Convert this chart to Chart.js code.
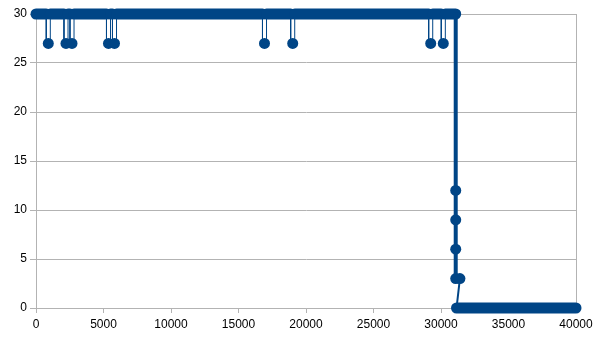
<!DOCTYPE html>
<html>
<head>
<meta charset="utf-8">
<script src="https://cdn.jsdelivr.net/npm/chart.js@4/dist/chart.umd.min.js"></script>
<style>
  body { margin: 0; background: #fff; }
  #wrap { width: 605px; height: 340px; }
</style>
</head>
<body>
<div id="wrap"><canvas id="chart" width="605" height="340"></canvas></div>
<script>
// x / y values (dense band at 30, short dips to 27, drop to 0)
var xValues = [0,
               760, 760, 911, 1060, 1060,
               2072, 2072, 2222, 2372, 2372,
               2517, 2517, 2667, 2817, 2817,
               5220, 5220, 5370, 5520, 5520,
               5665, 5665, 5815, 5965, 5965,
               16776, 16776, 16926, 17076, 17076,
               18865, 18865, 19015, 19165, 19165,
               29087, 29087, 29237, 29387, 29387,
               30020, 30020, 30170, 30320, 30320,
               31090, 31090, 31090, 31090, 31090, 31400, 31150, 40000];
var yValues = [30,
               30, 27, 27, 27, 30,
               30, 27, 27, 27, 30,
               30, 27, 27, 27, 30,
               30, 27, 27, 27, 30,
               30, 27, 27, 27, 30,
               30, 27, 27, 27, 30,
               30, 27, 27, 27, 30,
               30, 27, 27, 27, 30,
               30, 27, 27, 27, 30,
               30, 12, 9, 6, 3, 3, 0, 0];

var xTicks = [0, 5000, 10000, 15000, 20000, 25000, 30000, 35000, 40000];
var yTicks = [0, 5, 10, 15, 20, 25, 30];

var blue = '#004586';
var gridGray = '#b3b3b3';

var points = xValues.map(function(x, i) {
    return { x: x, y: yValues[i] };
});

// 線寬依段落決定
function segWidth(ctx) {
    var a = ctx.p0.parsed.y, b = ctx.p1.parsed.y;
    if (a === b && (a === 30 || a === 0)) return 11;   // 密集點形成的粗帶
    if (a === 27 || b === 27) return 1;                // 下探細線
    if (b === 0) return 2;
    return 4;
}

// 標記點大小：粗帶上不畫，下探只畫中間那個點
function markerRadius(c) {
    var i = c.dataIndex;
    var v = yValues[i];
    if (v === 30 || v === 0) return 0;
    if (v === 27) {
        return (yValues[i - 1] === 27 && yValues[i + 1] === 27) ? 5.5 : 0;
    }
    return 5.5;
}

var ctx = document.getElementById('chart').getContext('2d');
var chart = new Chart(ctx, {
    type: 'scatter',
    data: {
        datasets: [{
            data: points,
            showLine: true,
            borderColor: blue,
            backgroundColor: blue,
            borderWidth: 2,
            borderCapStyle: 'round',
            borderJoinStyle: 'round',
            pointRadius: markerRadius,
            pointBorderWidth: 0,
            pointHoverRadius: 0,
            clip: false,
            segment: { borderWidth: segWidth }
        }]
    },
    options: {
        responsive: false,
        animation: false,
        events: [],
        layout: { padding: { top: 14, right: 29, left: 0, bottom: 0 } },
        plugins: {
            legend: { display: false },
            tooltip: { enabled: false }
        },
        scales: {
            x: {
                type: 'linear',
                min: 0,
                max: 40000,
                afterBuildTicks: function(s) {
                    s.ticks = xTicks.map(function(v) { return { value: v }; });
                },
                afterFit: function(s) { s.height = 32; },
                grid: {
                    color: function(c) {
                        return c.tick && c.tick.value === 40000 ? gridGray : 'rgba(0,0,0,0)';
                    },
                    tickColor: gridGray,
                    tickLength: 5,
                    lineWidth: 1
                },
                border: { display: true, color: gridGray },
                ticks: {
                    color: '#000',
                    padding: 4,
                    maxRotation: 0,
                    font: { family: 'Liberation Sans', size: 12 },
                    callback: function(v) { return String(v); }
                }
            },
            y: {
                min: 0,
                max: 30,
                afterBuildTicks: function(s) {
                    s.ticks = yTicks.map(function(v) { return { value: v }; });
                },
                afterFit: function(s) { s.width = 36; },
                grid: {
                    color: gridGray,
                    tickColor: gridGray,
                    tickLength: 6,
                    lineWidth: 1
                },
                border: { display: true, color: gridGray },
                ticks: {
                    color: '#000',
                    padding: 3,
                    font: { family: 'Liberation Sans', size: 12 }
                }
            }
        }
    }
});
</script>
</body>
</html>
